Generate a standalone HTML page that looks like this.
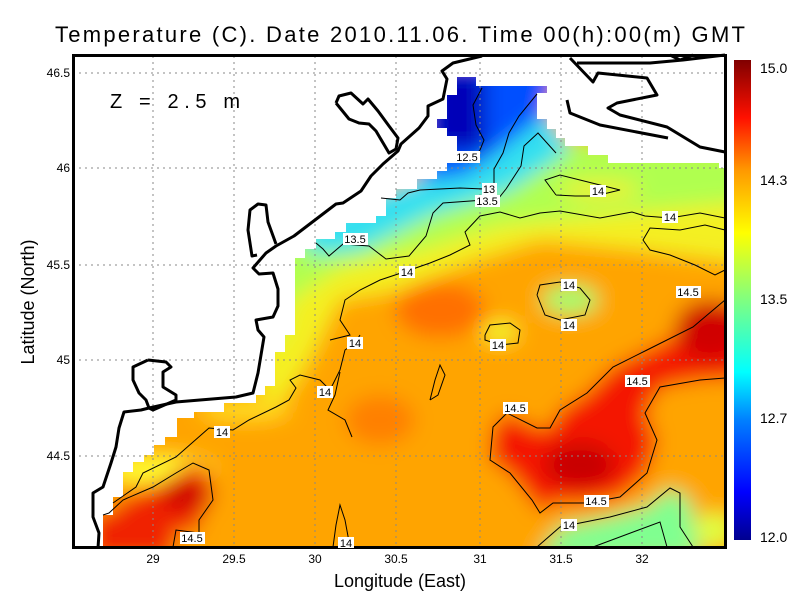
<!DOCTYPE html>
<html><head><style>body{margin:0;background:#fff}svg{display:block}</style></head><body>
<svg width="800" height="600" viewBox="0 0 800 600" xmlns="http://www.w3.org/2000/svg" font-family="Liberation Sans, sans-serif">
<defs>
<clipPath id="data"><polygon points="457,77 476,77 476,86 547,86 547,93 537,93 537,119 547,119 547,129 556,129 556,138 565,138 565,146 588,146 588,155 608,155 608,163 719,163 719,168 725,168 725,548 103,548 103,515 113,515 113,497 123,497 123,472 133,472 133,462 144,462 144,455 154,455 154,445 165,445 165,437 177,437 177,418 194,418 194,412 224,412 224,403 256,403 256,395 265,395 265,386 275,386 275,352 285,352 285,335 295,335 295,258 305,258 305,249 316,249 316,239 335,239 335,232 346,232 346,223 376,223 376,216 386,216 386,198 396,198 396,189 417,189 417,179 437,179 437,171 447,171 447,163 457,163 457,136 447,136 447,128 437,128 437,119 447,119 447,95 457,95"/></clipPath>
<filter id="bl" x="-10%" y="-10%" width="120%" height="120%"><feGaussianBlur stdDeviation="10"/></filter>
<linearGradient id="cb" x1="0" y1="1" x2="0" y2="0">
<stop offset="0" stop-color="#00008f"/><stop offset="0.1" stop-color="#0000ff"/><stop offset="0.25" stop-color="#0080ff"/><stop offset="0.35" stop-color="#00ffff"/><stop offset="0.5" stop-color="#80ff80"/><stop offset="0.64" stop-color="#ffff00"/><stop offset="0.77" stop-color="#ff9900"/><stop offset="0.88" stop-color="#ff1000"/><stop offset="1" stop-color="#800000"/>
</linearGradient>
</defs>
<g clip-path="url(#data)">
<g filter="url(#bl)">
<rect x="40" y="30" width="720" height="560" fill="#ffa400"/>
<polygon points="260,260 400,200 560,150 760,150 760,265 640,250 540,240 470,262 400,290 340,300 310,360 285,400 260,400" fill="#f4f020"/>
<polygon points="280,230 450,180 560,140 760,150 760,200 600,215 500,225 420,250 340,268 290,300 280,340 260,340" fill="#b0ff50"/>
<polygon points="300,220 440,170 500,130 545,110 570,150 510,190 430,215 360,250 310,255" fill="#30e0f0"/>
<polygon points="420,60 560,60 545,115 500,150 465,175 420,180" fill="#0050ff"/>
<polygon points="430,70 485,70 485,150 430,150" fill="#0000b8"/>
<ellipse cx="570" cy="300" rx="28" ry="14" fill="#a0ff70"/>
<ellipse cx="500" cy="332" rx="18" ry="10" fill="#f0ff30"/>
<ellipse cx="600" cy="190" rx="40" ry="10" fill="#f0f030"/>
<ellipse cx="160" cy="470" rx="55" ry="14" fill="#ffff30"/>
<ellipse cx="245" cy="410" rx="45" ry="10" fill="#ffe020"/>
<polygon points="537,560 560,527 610,517 647,507 670,488 690,500 700,560" fill="#80ff90"/>
<ellipse cx="715" cy="530" rx="20" ry="18" fill="#e0ff40"/>
<polygon points="507,413 493,427 490,460 510,473 532,500 540,513 553,503 587,503 620,497 647,473 657,440 645,413 660,387 700,380 760,378 760,290 693,327 647,350 613,367 587,393 560,410 550,428 537,428" fill="#f41800"/>
<ellipse cx="580" cy="465" rx="35" ry="22" fill="#c80000"/>
<ellipse cx="710" cy="330" rx="35" ry="30" fill="#d00000"/>
<polygon points="90,515 109,513 123,500 153,487 176,473 193,463 209,470 213,500 199,520 199,533 176,530 173,560 90,560" fill="#f02000"/>
<ellipse cx="185" cy="495" rx="25" ry="15" fill="#d00000"/>
<ellipse cx="440" cy="310" rx="45" ry="28" fill="#ff7000"/>
<ellipse cx="380" cy="420" rx="35" ry="25" fill="#ff8000"/>
</g>
</g>
<!-- grid -->
<g stroke="#888" stroke-width="1" stroke-dasharray="2,4">
<line x1="153" y1="56" x2="153" y2="547"/><line x1="234" y1="56" x2="234" y2="547"/><line x1="315" y1="56" x2="315" y2="547"/><line x1="396" y1="56" x2="396" y2="547"/><line x1="480" y1="56" x2="480" y2="547"/><line x1="561" y1="56" x2="561" y2="547"/><line x1="642" y1="56" x2="642" y2="547"/>
<line x1="73" y1="73" x2="725" y2="73"/><line x1="73" y1="168" x2="725" y2="168"/><line x1="73" y1="265" x2="725" y2="265"/><line x1="73" y1="360" x2="725" y2="360"/><line x1="73" y1="456" x2="725" y2="456"/>
</g>
<!-- contours -->
<g fill="none" stroke="#000" stroke-width="1">
<polyline points="482,88 473,105 476,125 484,140 480,150 468,163"/>
<polyline points="537,94 519,116 509,133 503,153 494,169 494,186 484,189 460,188 420,190 408,193 400,200 381,198"/>
<polyline points="556,153 538,133 524,146 521,166 506,189 498,199 443,203 433,213 426,236 409,256 386,259 369,246 343,244 329,256 323,249 316,243"/>
<polyline points="725,218 700,213 670,218 645,216 632,212 600,218 560,211 540,213 520,218 500,212 480,216 465,232 470,245 450,255 430,263 407,271 380,280 360,290 345,300 340,320 350,335 330,340"/>
<polyline points="556,195 545,180 560,175 600,185 620,190 595,196 575,196 556,195"/>
<polyline points="725,230 705,225 680,230 650,228 643,240 650,250 670,255 695,265 715,275 725,270"/>
<polyline points="537,295 540,285 560,282 580,288 590,300 585,315 560,320 545,315 537,295"/>
<polyline points="485,335 490,325 510,323 520,330 518,343 500,345 485,340 485,335"/>
<polyline points="113,503 136,487 143,473 176,457 209,428 233,430 249,420 276,407 289,400 296,388 290,380 300,375 320,380 330,390 340,370 345,350 355,343 360,335"/>
<polyline points="340,372 335,395 328,410 345,420 352,437"/>
<polyline points="103,515 109,513 123,500 153,487 176,473 193,463 209,470 213,500 199,520 199,533 176,530 173,547"/>
<polyline points="507,413 493,427 490,460 510,473 532,500 540,513 553,503 587,503 620,497 647,473 657,440 645,413 660,387 700,380 725,378"/>
<polyline points="725,300 693,327 647,350 613,367 587,393 560,410 550,428 537,428 507,413"/>
<polyline points="537,547 560,527 610,517 647,507 670,488 680,493 680,527 693,547"/>
<polyline points="593,547 660,522 667,547"/>
<polyline points="333,547 336,525 340,505 345,520 350,547"/>
<polyline points="430,400 435,380 440,365 445,375 438,395 430,400"/>
</g>
<!-- land coast -->
<g fill="none" stroke="#000" stroke-width="3" stroke-linejoin="round">
<polyline points="482,56 453,63 442,71 447,79 443,99 428,106 428,116 419,128 401,144 398,151 383,164 371,176 361,191 343,203 336,204 294,236 276,246 266,253 253,268 259,274 273,273 278,289 278,306 273,317 256,320 258,330 264,337 261,355 258,373 253,393 236,397 176,402 149,408 141,410 124,412 119,428 116,447 111,463 103,487 93,493 93,517 99,533 98,548"/>
<polyline points="148,360 166,362 171,367 163,372 163,387 176,395 176,400 153,410 149,408 146,400 139,393 133,380 133,367 148,360"/>
<polyline points="336,103 339,96 351,93 363,104 368,99 378,111 389,126 398,138 396,149 389,153 376,131 369,124 359,123 349,119 336,103"/>
<polyline points="276,244 268,222 266,205 258,204 250,210 248,230 252,256 257,255"/>
<polyline points="570,58 593,82 598,73 647,78 657,95 617,103 608,108 620,115 667,127 700,147 725,152"/>
<polyline points="567,100 570,113 600,125 668,138"/>
<polyline points="577,63 650,63 683,60 725,55"/>
<polyline points="670,55 680,60 693,55"/>
</g>
<rect x="73.5" y="55.5" width="652" height="492" fill="none" stroke="#000" stroke-width="3"/>
<!-- contour labels -->
<g font-size="11" text-anchor="middle">
<g fill="#fff">
<rect x="455" y="151" width="25" height="12"/><rect x="482" y="183" width="15" height="12"/><rect x="475" y="195" width="25" height="12"/><rect x="590" y="185" width="16" height="12"/><rect x="662" y="211" width="16" height="12"/><rect x="343" y="233" width="25" height="12"/><rect x="399" y="266" width="16" height="12"/><rect x="561" y="279" width="16" height="12"/><rect x="676" y="286" width="25" height="12"/><rect x="561" y="319" width="16" height="12"/><rect x="490" y="339" width="16" height="12"/><rect x="347" y="337" width="16" height="12"/><rect x="625" y="375" width="25" height="12"/><rect x="317" y="386" width="16" height="12"/><rect x="503" y="402" width="25" height="12"/><rect x="214" y="426" width="16" height="12"/><rect x="584" y="495" width="25" height="12"/><rect x="561" y="519" width="16" height="12"/><rect x="180" y="532" width="25" height="12"/><rect x="338" y="537" width="16" height="11"/>
</g>
<text x="467" y="161">12.5</text><text x="489" y="193">13</text><text x="487" y="205">13.5</text><text x="598" y="195">14</text><text x="670" y="221">14</text><text x="355" y="243">13.5</text><text x="407" y="276">14</text><text x="569" y="289">14</text><text x="688" y="296">14.5</text><text x="569" y="329">14</text><text x="498" y="349">14</text><text x="355" y="347">14</text><text x="637" y="385">14.5</text><text x="325" y="396">14</text><text x="515" y="412">14.5</text><text x="222" y="436">14</text><text x="596" y="505">14.5</text><text x="569" y="529">14</text><text x="192" y="542">14.5</text><text x="346" y="547">14</text>
</g>
<!-- colorbar -->
<rect x="734" y="60" width="17" height="480" fill="url(#cb)"/>
<g font-size="14" fill="#000">
<text x="760" y="73">15.0</text><text x="760" y="185">14.3</text><text x="760" y="304">13.5</text><text x="760" y="423">12.7</text><text x="760" y="542">12.0</text>
</g>
<!-- ticks -->
<g font-size="12" text-anchor="middle">
<text x="153" y="563">29</text><text x="234" y="563">29.5</text><text x="315" y="563">30</text><text x="396" y="563">30.5</text><text x="480" y="563">31</text><text x="561" y="563">31.5</text><text x="642" y="563">32</text>
</g>
<g font-size="12" text-anchor="end">
<text x="70" y="77">46.5</text><text x="70" y="172">46</text><text x="70" y="269">45.5</text><text x="70" y="364">45</text><text x="70" y="460">44.5</text>
</g>
<text x="400" y="587" font-size="18" text-anchor="middle">Longitude (East)</text>
<text transform="translate(34,302) rotate(-90)" font-size="18" text-anchor="middle">Latitude (North)</text>
<text x="55" y="42" font-size="22" textLength="690" lengthAdjust="spacing">Temperature (C). Date 2010.11.06. Time 00(h):00(m) GMT</text>
<text x="110" y="108" font-size="20" textLength="130" lengthAdjust="spacing">Z = 2.5 m</text>
</svg>
</body></html>
